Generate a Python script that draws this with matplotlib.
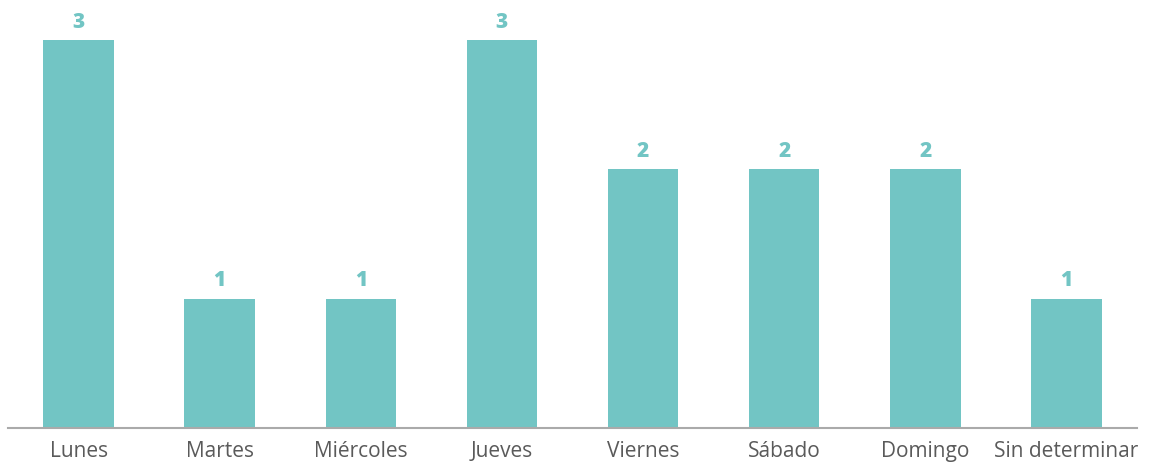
import matplotlib
matplotlib.use("Agg")
import matplotlib.pyplot as plt

dias = ["Lunes", "Martes", "Miércoles", "Jueves", "Viernes", "Sábado", "Domingo", "Sin determinar"]
casos = [3, 1, 1, 3, 2, 2, 2, 1]

color_barra = "#72C5C4"

fig = plt.figure(figsize=(11.55, 4.64), dpi=100)
ax = fig.add_axes([8 / 1155, 35 / 464, 1129 / 1155, 429 / 464])

x = range(len(dias))
bars = ax.bar(x, casos, width=0.5, color=color_barra)

for b, v in zip(bars, casos):
    ax.annotate(str(v), (b.get_x() + b.get_width() / 2, v), xytext=(0, 6),
                textcoords="offset points", ha="center", va="bottom",
                fontsize=15, fontweight="heavy", color=color_barra, family="Open Sans")

ax.set_xlim(-0.5, 7.5)
ax.set_ylim(0, 3.318)
ax.set_xticks(list(x))
ax.set_xticklabels(dias, fontsize=15, color="#5a5a5a", family="Open Sans")
ax.tick_params(axis="x", length=0, pad=8.5)
ax.set_yticks([])
for s in ["top", "right", "left"]:
    ax.spines[s].set_visible(False)
ax.spines["bottom"].set_color("#aaaaaa")
ax.spines["bottom"].set_linewidth(1.5)

fig.savefig("out.png", dpi=100)
